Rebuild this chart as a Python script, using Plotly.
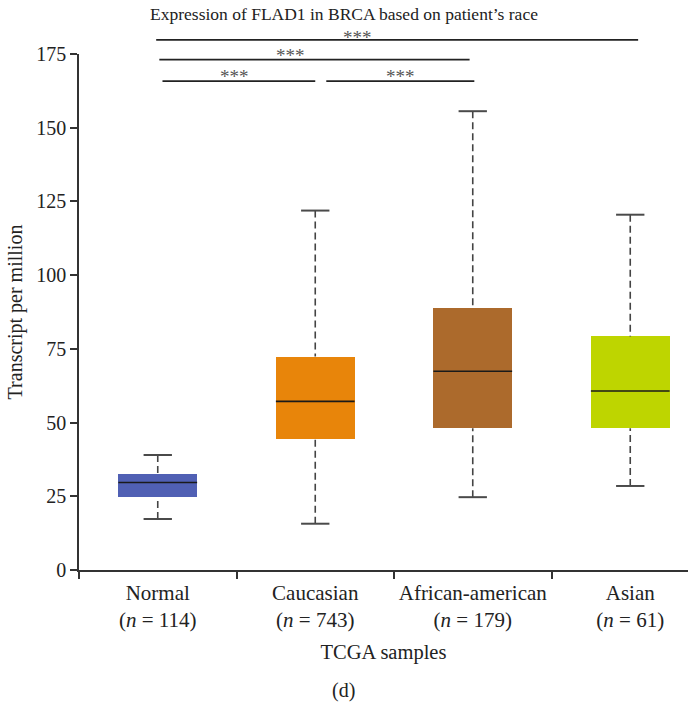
import plotly.graph_objects as go

# ---- data ----
categories = ["Normal", "Caucasian", "African-american", "Asian"]
sample_n = [114, 743, 179, 61]
lower_whisker = [17.3, 15.7, 24.7, 28.5]
q1 = [24.8, 44.4, 48.1, 48.1]
median = [29.7, 57.2, 67.4, 60.7]
q3 = [32.4, 72.4, 89.0, 79.2]
upper_whisker = [39.0, 121.9, 155.6, 120.5]
box_colors = ["#5060B4", "#E8850A", "#AC6A2C", "#BED500"]

# significance brackets: (from group, to group), label, level (TPM units)
sig_x0 = [-0.01, 0.01, 0.03, 1.07]
sig_x1 = [3.05, 1.98, 1.00, 2.01]
sig_label_x = [1.27, 0.84, 0.49, 1.54]
sig_level = [179.8, 173.1, 165.8, 165.8]
sig_label_level = [180.6, 174.6, 167.5, 167.5]
sig_labels = ["***", "***", "***", "***"]

y_ticks = [0, 25, 50, 75, 100, 125, 150, 175]
y_max = 175

FONT = "Liberation Serif"
AX = "#333333"
BOX_W = 0.5
CAP_W = 0.18

xs = list(range(len(categories)))
tick_text = [f"{c}<br>(<i>n</i> = {n})" for c, n in zip(categories, sample_n)]

fig = go.Figure()

# dashed whiskers
wx, wy = [], []
for i in xs:
    wx += [i, i, None, i, i, None]
    wy += [upper_whisker[i], q3[i], None, lower_whisker[i], q1[i], None]
fig.add_trace(go.Scatter(x=wx, y=wy, mode="lines",
                         line=dict(color="#444444", width=1.6, dash="7px,4px"),
                         hoverinfo="skip", showlegend=False))
# caps
cx, cy = [], []
for i in xs:
    for v in (upper_whisker[i], lower_whisker[i]):
        cx += [i - CAP_W / 2, i + CAP_W / 2, None]
        cy += [v, v, None]
fig.add_trace(go.Scatter(x=cx, y=cy, mode="lines",
                         line=dict(color="#4a4a4a", width=2),
                         hoverinfo="skip", showlegend=False))
# boxes
fig.add_trace(go.Bar(x=xs, y=[b - a for a, b in zip(q1, q3)], base=q1,
                     width=BOX_W, marker=dict(color=box_colors, line=dict(width=0)),
                     showlegend=False))
# medians
mx, my = [], []
for i in xs:
    mx += [i - BOX_W / 2, i + BOX_W / 2, None]
    my += [median[i], median[i], None]
fig.add_trace(go.Scatter(x=mx, y=my, mode="lines",
                         line=dict(color="#1a1a1a", width=1.6),
                         hoverinfo="skip", showlegend=False))

# significance brackets
for x0, x1, lv in zip(sig_x0, sig_x1, sig_level):
    fig.add_shape(type="line", xref="x", yref="paper", x0=x0, x1=x1,
                  y0=lv / y_max, y1=lv / y_max, line=dict(color="#222222", width=1.6))
for lx, ll, txt in zip(sig_label_x, sig_label_level, sig_labels):
    fig.add_annotation(x=lx, y=ll / y_max, xref="x", yref="paper", text=txt,
                       showarrow=False, yanchor="middle",
                       font=dict(family=FONT, size=19, color="#555555"))

fig.add_annotation(x=0.435, y=-0.2326, xref="paper", yref="paper", text="(d)",
                   showarrow=False, yanchor="middle",
                   font=dict(family=FONT, size=20, color="#222222"))

fig.update_layout(
    width=688, height=703,
    margin=dict(l=79, r=0, t=54, b=133),
    plot_bgcolor="white", paper_bgcolor="white",
    bargap=0,
    font=dict(family=FONT, size=20, color="#222222"),
    title=dict(text="Expression of FLAD1 in BRCA based on patient’s race",
               x=0.5, xref="container", xanchor="center",
               y=1 - 14 / 703, yref="container", yanchor="middle",
               font=dict(family=FONT, size=17.5, color="#222222")),
    xaxis=dict(range=[-0.5, -0.5 + 609 / 157.5], tickvals=xs, ticktext=tick_text,
               ticks="", showline=True, linecolor=AX, linewidth=1.5,
               showgrid=False, zeroline=False,
               tickfont=dict(family=FONT, size=21, color="#222222"),
               minor=dict(tickvals=[-0.5, 0.5, 1.5, 2.5], ticks="outside",
                          ticklen=7, tickwidth=1.5, tickcolor=AX),
               ticklabelstandoff=3,
               title=dict(text="TCGA samples", standoff=13,
                          font=dict(family=FONT, size=20.5))),
    yaxis=dict(range=[0, y_max], tickvals=y_ticks, ticks="outside", ticklen=7,
               tickwidth=1.5, tickcolor=AX, showline=True, linecolor=AX,
               linewidth=1.5, showgrid=False, zeroline=False,
               tickfont=dict(family=FONT, size=20, color="#222222"),
               title=dict(text="Transcript per million", standoff=8,
                          font=dict(family=FONT, size=20))),
)

fig.write_html("out.html")
